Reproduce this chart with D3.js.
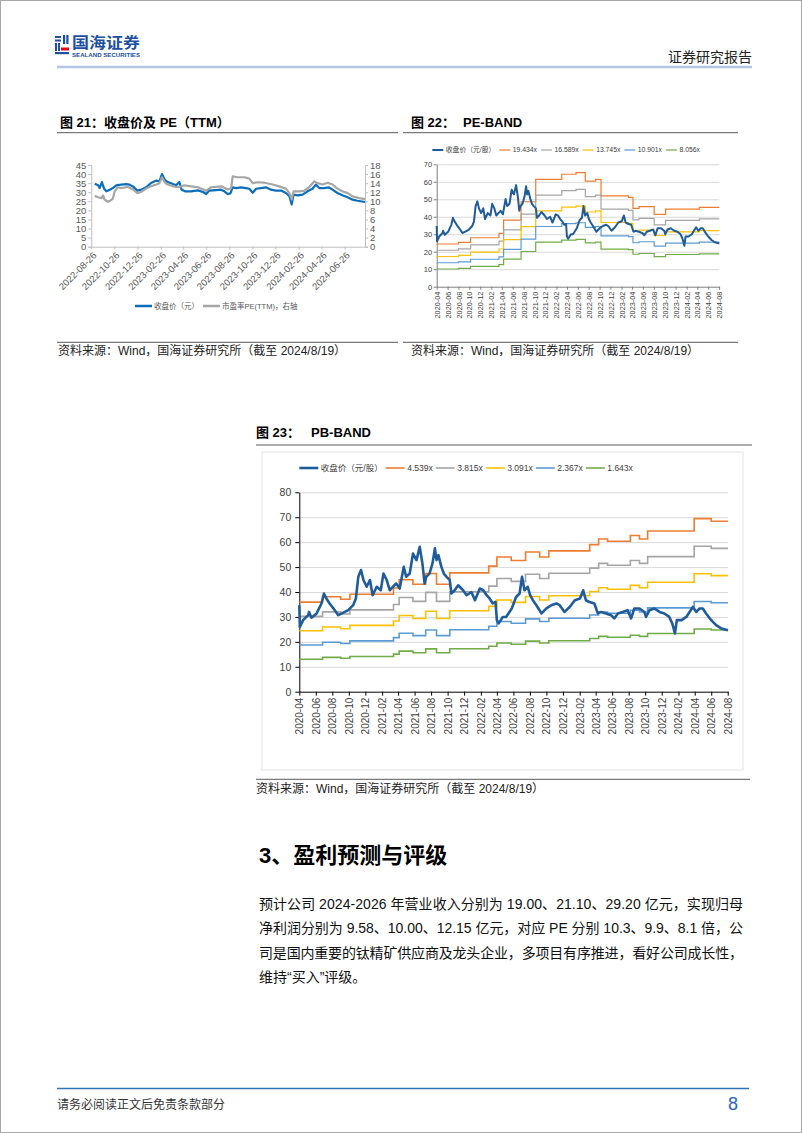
<!DOCTYPE html>
<html><head><meta charset="utf-8">
<script src="https://cdn.jsdelivr.net/npm/d3@7"></script>
<style>
body{margin:0;background:#fff;}
svg{display:block;}
</style></head><body>
<svg id="page" width="802" height="1133"></svg>
<script>
// ---------------- DATA ----------------
// Fig 21: close price (left axis) and PE TTM (right axis)
const c21XTicks = ["2022-08-26","2022-10-26","2022-12-26","2023-02-26","2023-04-26","2023-06-26","2023-08-26","2023-10-26","2023-12-26","2024-02-26","2024-04-26","2024-06-26"];
const c21LeftTicks = [0,5,10,15,20,25,30,35,40,45];
const c21RightTicks = [0,2,4,6,8,10,12,14,16,18];
const c21Price = [["2022-09-04",34.7],["2022-09-13",33.8],["2022-09-17",32.3],["2022-09-23",35.6],["2022-09-29",31.9],["2022-10-05",30.5],["2022-10-14",31.4],["2022-10-22",32.3],["2022-10-31",33.8],["2022-11-13",34.2],["2022-11-26",34.5],["2022-12-05",34.2],["2022-12-14",33.2],["2022-12-26",30.9],["2023-01-05",31.4],["2023-01-18",32.7],["2023-01-31",35.1],["2023-02-14",36.4],["2023-02-22",36.0],["2023-03-01",40.0],["2023-03-08",36.9],["2023-03-16",35.6],["2023-03-30",34.5],["2023-04-07",33.8],["2023-04-16",35.6],["2023-04-22",31.4],["2023-05-01",30.5],["2023-05-17",30.5],["2023-06-04",31.0],["2023-06-17",30.1],["2023-06-26",29.0],["2023-07-04",30.9],["2023-07-22",31.2],["2023-08-04",31.4],["2023-08-13",30.5],["2023-08-22",29.0],["2023-08-29",29.4],["2023-09-04",32.7],["2023-09-13",32.3],["2023-09-26",32.7],["2023-10-09",32.3],["2023-10-18",31.9],["2023-10-27",29.7],["2023-11-05",31.9],["2023-11-18",32.3],["2023-12-01",32.7],["2023-12-14",31.4],["2023-12-27",30.9],["2024-01-10",30.9],["2024-01-23",29.6],["2024-02-01",27.8],["2024-02-07",23.2],["2024-02-12",28.7],["2024-02-23",28.3],["2024-03-07",28.7],["2024-03-20",30.5],["2024-04-02",31.9],["2024-04-11",34.2],["2024-04-20",32.3],["2024-05-03",32.3],["2024-05-16",32.7],["2024-05-25",31.4],["2024-06-07",29.6],["2024-06-20",28.3],["2024-07-04",27.2],["2024-07-17",25.9],["2024-07-30",25.3],["2024-08-19",24.6]];
const c21PE = [["2022-09-04",11.2],["2022-09-13",10.9],["2022-09-22",10.7],["2022-09-26",11.3],["2022-09-30",10.4],["2022-10-09",9.9],["2022-10-16",10.2],["2022-10-22",10.6],["2022-10-27",12.2],["2022-11-04",13.1],["2022-11-13",12.9],["2022-12-01",13.2],["2022-12-14",12.6],["2022-12-26",11.8],["2023-01-05",12.1],["2023-01-18",12.8],["2023-01-31",13.3],["2023-02-14",13.7],["2023-02-22",14.0],["2023-03-01",15.3],["2023-03-08",14.2],["2023-03-16",13.7],["2023-03-30",13.3],["2023-04-12",13.1],["2023-04-21",13.3],["2023-04-29",13.5],["2023-05-17",13.3],["2023-06-04",13.1],["2023-06-26",12.3],["2023-07-09",13.1],["2023-08-04",13.3],["2023-08-22",12.6],["2023-08-31",12.9],["2023-09-04",15.5],["2023-09-17",15.3],["2023-10-05",15.3],["2023-10-18",15.0],["2023-10-27",14.0],["2023-11-09",14.2],["2023-11-27",14.1],["2023-12-19",13.7],["2024-01-05",13.3],["2024-01-23",12.8],["2024-02-01",11.8],["2024-02-07",10.4],["2024-02-12",12.2],["2024-02-27",12.2],["2024-03-11",12.3],["2024-03-24",13.1],["2024-04-07",14.4],["2024-04-15",14.0],["2024-04-29",13.7],["2024-05-12",14.1],["2024-05-25",13.7],["2024-06-07",12.8],["2024-06-20",12.2],["2024-07-04",11.8],["2024-07-17",11.1],["2024-08-04",10.7],["2024-08-19",10.5]];

// Fig 22 / 23: close price (元/股) shared by both band charts
const bandXTicks = ["2020-04","2020-06","2020-08","2020-10","2020-12","2021-02","2021-04","2021-06","2021-08","2021-10","2021-12","2022-02","2022-04","2022-06","2022-08","2022-10","2022-12","2023-02","2023-04","2023-06","2023-08","2023-10","2023-12","2024-02","2024-04","2024-06","2024-08"];
const closePrice = [["2020-04-01",34.7],["2020-04-03",26.0],["2020-04-15",28.7],["2020-05-04",30.7],["2020-05-07",32.0],["2020-05-16",29.7],["2020-06-04",31.4],["2020-06-22",35.4],["2020-07-01",39.4],["2020-07-10",37.4],["2020-07-22",35.4],["2020-08-10",32.7],["2020-08-23",30.7],["2020-09-11",31.7],["2020-09-29",32.7],["2020-10-17",34.7],["2020-10-27",37.4],["2020-11-05",46.1],["2020-11-15",48.8],["2020-11-24",44.8],["2020-12-06",42.1],["2020-12-18",44.8],["2020-12-28",38.7],["2021-01-12",42.1],["2021-01-27",40.7],["2021-02-06",47.4],["2021-02-18",44.8],["2021-03-01",40.7],["2021-03-13",42.1],["2021-03-25",43.4],["2021-04-07",41.4],["2021-04-22",50.1],["2021-05-01",46.1],["2021-05-14",47.4],["2021-05-26",55.4],["2021-06-08",52.8],["2021-06-20",58.1],["2021-06-30",51.4],["2021-07-08",43.4],["2021-07-14",46.1],["2021-07-26",47.4],["2021-08-06",51.4],["2021-08-15",57.5],["2021-08-21",52.8],["2021-08-28",54.8],["2021-09-08",50.1],["2021-09-17",47.4],["2021-09-27",46.1],["2021-10-09",44.8],["2021-10-15",39.4],["2021-10-27",40.7],["2021-11-09",42.7],["2021-11-27",40.7],["2021-12-10",38.7],["2021-12-28",40.0],["2022-01-10",36.7],["2022-01-28",41.4],["2022-02-10",40.7],["2022-02-22",38.7],["2022-03-05",37.4],["2022-03-17",35.4],["2022-03-27",36.0],["2022-04-01",28.7],["2022-04-08",27.4],["2022-04-23",30.0],["2022-05-05",30.0],["2022-05-26",33.4],["2022-06-11",38.0],["2022-06-24",39.4],["2022-07-03",46.1],["2022-07-12",40.7],["2022-07-24",42.1],["2022-08-02",38.7],["2022-08-12",36.7],["2022-08-25",34.7],["2022-09-13",31.4],["2022-10-01",33.4],["2022-10-19",34.7],["2022-11-07",35.4],["2022-11-19",34.7],["2022-12-07",32.0],["2022-12-26",34.0],["2023-01-14",36.7],["2023-02-02",37.4],["2023-02-14",40.7],["2023-02-24",36.7],["2023-03-09",36.0],["2023-03-27",35.4],["2023-04-09",31.4],["2023-04-21",32.0],["2023-05-09",31.4],["2023-05-28",30.7],["2023-06-09",29.4],["2023-06-22",31.4],["2023-07-10",32.0],["2023-07-28",32.7],["2023-08-10",29.4],["2023-08-22",33.4],["2023-09-10",33.4],["2023-09-28",32.0],["2023-10-04",30.0],["2023-10-17",32.7],["2023-11-04",33.4],["2023-11-23",32.0],["2023-12-11",31.4],["2023-12-29",30.0],["2024-01-09",27.4],["2024-01-19",23.4],["2024-01-26",28.7],["2024-02-12",28.7],["2024-03-01",30.0],["2024-03-13",32.0],["2024-03-25",34.0],["2024-04-07",32.0],["2024-04-19",33.4],["2024-05-01",33.4],["2024-05-13",31.4],["2024-06-01",28.7],["2024-06-19",26.7],["2024-07-08",25.4],["2024-08-02",24.7]];

const peMultiples = [19.434, 16.589, 13.745, 10.901, 8.056];
const peYTicks = [0,10,20,30,40,50,60,70];
const epsSteps = [["2020-04-01",1.256],["2020-08-01",1.307],["2020-10-08",1.441],["2021-03-16",1.569],["2021-04-11",1.960],["2021-07-18",2.50],["2021-10-08",3.159],["2022-03-03",3.309],["2022-05-22",3.355],["2022-07-13",3.108],["2022-09-08",3.159],["2022-10-09",2.671],["2023-03-12",2.629],["2023-04-06",2.305],["2023-05-10",2.357],["2023-08-03",2.130],["2023-10-06",2.285],["2024-04-12",2.336]];

// Fig 23: PB band multiples and BPS steps
const pbMultiples = [4.539, 3.815, 3.091, 2.367, 1.643];
const pbYTicks = [0,10,20,30,40,50,60,70,80];
const bpsSteps = [["2020-04-01",7.92],["2020-06-26",8.39],["2020-09-01",8.17],["2020-10-05",8.61],["2021-03-15",9.17],["2021-04-05",9.90],["2021-05-26",9.50],["2021-07-12",10.45],["2021-08-21",9.50],["2021-10-09",10.50],["2022-03-02",11.10],["2022-04-01",11.90],["2022-05-24",11.60],["2022-07-16",12.35],["2022-09-06",11.90],["2022-10-10",12.45],["2023-03-10",13.00],["2023-04-12",13.50],["2023-05-15",13.30],["2023-08-07",13.80],["2023-09-10",13.50],["2023-10-10",14.20],["2024-03-30",15.30],["2024-06-01",15.07]];

const bandEnd = "2024-08-02";
const bandColors = ["#ed7d31","#a5a5a5","#ffc000","#5b9bd5","#70ad47"];
const priceLegend = "收盘价（元/股）";

// ---------------- DRAW ----------------
const svg = d3.select("#page");
const parseDay = d3.timeParse("%Y-%m-%d");
const parseMonth = d3.timeParse("%Y-%m");
const FONT = '"Liberation Sans","Noto Sans CJK SC",sans-serif';

function txt(x, y, s, size, opts = {}) {
  const t = svg.append("text").attr("x", x).attr("y", y).text(s)
    .style("font-family", opts.family || FONT).style("font-size", size + "px")
    .attr("fill", opts.fill || "#000");
  if (opts.weight) t.style("font-weight", opts.weight);
  if (opts.anchor) t.attr("text-anchor", opts.anchor);
  if (opts.len) t.attr("textLength", opts.len).attr("lengthAdjust", "spacingAndGlyphs");
  if (opts.lenSpacing) t.attr("textLength", opts.lenSpacing).attr("lengthAdjust", "spacing");
  return t;
}
function hline(x1, x2, y, color, w) {
  svg.append("line").attr("x1", x1).attr("x2", x2).attr("y1", y).attr("y2", y)
    .attr("stroke", color).attr("stroke-width", w);
}
function styleAxis(sel, lineColor, textColor, size) {
  sel.select(".domain").attr("stroke", lineColor);
  sel.selectAll(".tick line").attr("stroke", lineColor);
  sel.selectAll(".tick text").attr("fill", textColor).style("font-size", size + "px").style("font-family", FONT);
}

// page frame
svg.append("rect").attr("x", 0.5).attr("y", 0.5).attr("width", 801).attr("height", 1132)
  .attr("fill", "none").attr("stroke", "#a8a8a8");

// ---- header ----
const logoBlue = "#1d4fa3";
[[55,36,6,2],[55,39.5,6,2],[63,35,2.2,9],[66.3,35,2.2,9],[55,43,2,8],[58,43,2,8]].forEach(r =>
  svg.append("rect").attr("x", r[0]).attr("y", r[1]).attr("width", r[2]).attr("height", r[3]).attr("fill", logoBlue));
svg.append("rect").attr("x", 61).attr("y", 47.5).attr("width", 8).attr("height", 3).attr("fill", "#e60012");
svg.append("rect").attr("x", 55).attr("y", 52).attr("width", 14).attr("height", 2.2).attr("fill", logoBlue);
txt(72, 48, "国海证券", 15, {weight: "bold", fill: logoBlue, len: 68});
txt(72, 56.5, "SEALAND SECURITIES", 5, {weight: "bold", fill: logoBlue, len: 68});
txt(752, 62, "证券研究报告", 14, {anchor: "end", fill: "#222"});
hline(57, 752, 67, "#b4c6e7", 2.5);

// ---- Figure 21 ----
txt(60, 127, "图 21：收盘价及 PE（TTM）", 13, {weight: "bold"});
hline(57, 398, 132.7, "#595959", 1);
hline(57, 398, 342.3, "#595959", 1);
txt(58, 355, "资料来源：Wind，国海证券研究所（截至 2024/8/19）", 12, {fill: "#222"});

const x21 = d3.scaleTime().domain([parseDay("2022-08-26"), parseDay("2024-08-19")]).range([91.3, 365]);
const y21L = d3.scaleLinear().domain([0, 45]).range([246.7, 165]);
const y21R = d3.scaleLinear().domain([0, 18]).range([246.7, 165]);
svg.append("g").attr("transform", "translate(91.3,0)")
  .call(d3.axisLeft(y21L).tickValues(c21LeftTicks).tickSize(3).tickPadding(2))
  .call(styleAxis, "#bfbfbf", "#595959", 9.5);
svg.append("g").attr("transform", "translate(365,0)")
  .call(d3.axisRight(y21R).tickValues(c21RightTicks).tickSize(3).tickPadding(2))
  .call(styleAxis, "#bfbfbf", "#595959", 9.5);
const ax21 = svg.append("g").attr("transform", "translate(0,246.7)")
  .call(d3.axisBottom(x21).tickValues(c21XTicks.map(parseDay)).tickSize(3).tickSizeOuter(0).tickFormat(d3.timeFormat("%Y-%m-%d")))
  .call(styleAxis, "#bfbfbf", "#595959", 9.5);
ax21.selectAll(".tick text").attr("y", 0).attr("dy", "0.35em").attr("text-anchor", "end")
  .attr("transform", "translate(3,7) rotate(-45)");

const line21L = d3.line().x(d => x21(parseDay(d[0]))).y(d => y21L(d[1]));
const line21R = d3.line().x(d => x21(parseDay(d[0]))).y(d => y21R(d[1]));
svg.append("path").datum(c21Price).attr("d", line21L).attr("fill", "none")
  .attr("stroke", "#0a6ebd").attr("stroke-width", 2.2).attr("stroke-linejoin", "round");
svg.append("path").datum(c21PE).attr("d", line21R).attr("fill", "none")
  .attr("stroke", "#a6a6a6").attr("stroke-width", 2.2).attr("stroke-linejoin", "round");
// legend
hline(135, 152, 306, "#0a6ebd", 2.5);
txt(154, 309, "收盘价（元）", 7.5, {fill: "#595959"});
hline(203, 220, 306, "#a6a6a6", 2.5);
txt(222, 309, "市盈率PE(TTM)，右轴", 7.5, {fill: "#595959"});

// ---- band chart helper ----
function bandChart(cfg) {
  const x = d3.scaleTime().domain([parseMonth("2020-04"), parseDay(bandEnd)]).range([cfg.left, cfg.right]);
  const y = d3.scaleLinear().domain([0, cfg.yMax]).range([cfg.bottom, cfg.top]);
  const grid = svg.append("g").attr("transform", `translate(${cfg.left},0)`)
    .call(d3.axisLeft(y).tickValues(cfg.yTicks.filter(v => v > 0)).tickSize(-(cfg.right - cfg.left)).tickFormat(""));
  grid.select(".domain").remove();
  grid.selectAll(".tick line").attr("stroke", "#d9d9d9");
  svg.append("g").attr("transform", `translate(${cfg.left},0)`)
    .call(d3.axisLeft(y).tickValues(cfg.yTicks).tickSizeInner(cfg.tick).tickSizeOuter(0).tickPadding(cfg.pad))
    .call(styleAxis, cfg.axisColor, "#404040", cfg.yFont);
  const ax = svg.append("g").attr("transform", `translate(0,${cfg.bottom})`)
    .call(d3.axisBottom(x).tickValues(bandXTicks.map(parseMonth)).tickSize(cfg.tick).tickSizeOuter(0).tickFormat(d3.timeFormat("%Y-%m")))
    .call(styleAxis, cfg.axisColor, "#404040", cfg.xFont);
  ax.selectAll(".tick text").attr("y", 0).attr("dy", "0.35em").attr("text-anchor", "end")
    .attr("transform", `translate(0,${cfg.tick + 2}) rotate(-90)`);
  const stepLine = d3.line().x(d => x(d.date)).y(d => y(d.v)).curve(d3.curveStepAfter);
  cfg.multiples.forEach((m, i) => {
    const pts = cfg.steps.map(s => ({date: parseDay(s[0]), v: s[1] * m}));
    pts.push({date: parseDay(bandEnd), v: cfg.steps[cfg.steps.length - 1][1] * m});
    svg.append("path").datum(pts).attr("d", stepLine).attr("fill", "none")
      .attr("stroke", bandColors[i]).attr("stroke-width", cfg.bandW);
  });
  const pl = d3.line().x(d => x(parseDay(d[0]))).y(d => y(d[1]));
  svg.append("path").datum(closePrice).attr("d", pl).attr("fill", "none")
    .attr("stroke", "#1f5c99").attr("stroke-width", cfg.priceW).attr("stroke-linejoin", "round");
  const items = [{label: priceLegend, color: "#1f5c99", w: cfg.priceW}]
    .concat(cfg.multiples.map((m, i) => ({label: d3.format(".3f")(m) + "x", color: bandColors[i], w: cfg.bandW})));
  let lx = cfg.legendX;
  items.forEach(it => {
    hline(lx, lx + cfg.seg, cfg.legendY, it.color, it.w);
    const t = txt(lx + cfg.seg + cfg.segGap, cfg.legendY + cfg.legFont * 0.36, it.label, cfg.legFont, {fill: "#404040"});
    lx = lx + cfg.seg + cfg.segGap + t.node().getComputedTextLength() + cfg.itemGap;
  });
}

// ---- Figure 22 ----
txt(411, 127, "图 22：", 13, {weight: "bold"});
txt(463, 127, "PE-BAND", 13, {weight: "bold"});
hline(403, 738, 132.7, "#595959", 1);
hline(403, 738, 342.3, "#595959", 1);
txt(411, 355, "资料来源：Wind，国海证券研究所（截至 2024/8/19）", 12, {fill: "#222"});
bandChart({left: 436.7, right: 719.3, top: 164.3, bottom: 286.7, yMax: 70, yTicks: peYTicks,
  multiples: peMultiples, steps: epsSteps, tick: 3, pad: 1.5, axisColor: "#7f7f7f",
  yFont: 7.5, xFont: 7.3, bandW: 1.2, priceW: 2.0,
  legendX: 432.3, legendY: 150, seg: 11, segGap: 2.5, itemGap: 4, legFont: 6.8});

// ---- Figure 23 ----
txt(256, 437, "图 23：", 13, {weight: "bold"});
txt(311, 437, "PB-BAND", 13, {weight: "bold"});
hline(256, 752, 445, "#595959", 1);
svg.append("rect").attr("x", 262).attr("y", 452).attr("width", 481).attr("height", 318)
  .attr("fill", "none").attr("stroke", "#e3e3e3");
bandChart({left: 299.3, right: 728, top: 492.3, bottom: 691.7, yMax: 80, yTicks: pbYTicks,
  multiples: pbMultiples, steps: bpsSteps, tick: 4, pad: 4, axisColor: "#000",
  yFont: 10.5, xFont: 10, bandW: 1.6, priceW: 2.6,
  legendX: 299.3, legendY: 468, seg: 19, segGap: 2.5, itemGap: 3, legFont: 8.5});
hline(256, 750, 779.3, "#595959", 1);
txt(256, 793, "资料来源：Wind，国海证券研究所（截至 2024/8/19）", 12, {fill: "#222"});

// ---- Section 3 text ----
txt(259, 863, "3、盈利预测与评级", 22, {weight: "bold"});
const para = [
  "预计公司 2024-2026 年营业收入分别为 19.00、21.10、29.20 亿元，实现归母",
  "净利润分别为 9.58、10.00、12.15 亿元，对应 PE 分别 10.3、9.9、8.1 倍，公",
  "司是国内重要的钛精矿供应商及龙头企业，多项目有序推进，看好公司成长性，",
  "维持“买入”评级。"
];
para.forEach((s, i) => {
  const o = {fill: "#111"};
  if (i < 3) o.lenSpacing = 484;
  txt(259, 909 + i * 24.3, s, 14, o);
});

// ---- footer ----
hline(57, 749, 1088.5, "#2e75b6", 1.5);
txt(57, 1109, "请务必阅读正文后免责条款部分", 12, {fill: "#333"});
txt(738, 1110, "8", 18, {anchor: "end", fill: "#2f62b8"});
</script></body></html>
